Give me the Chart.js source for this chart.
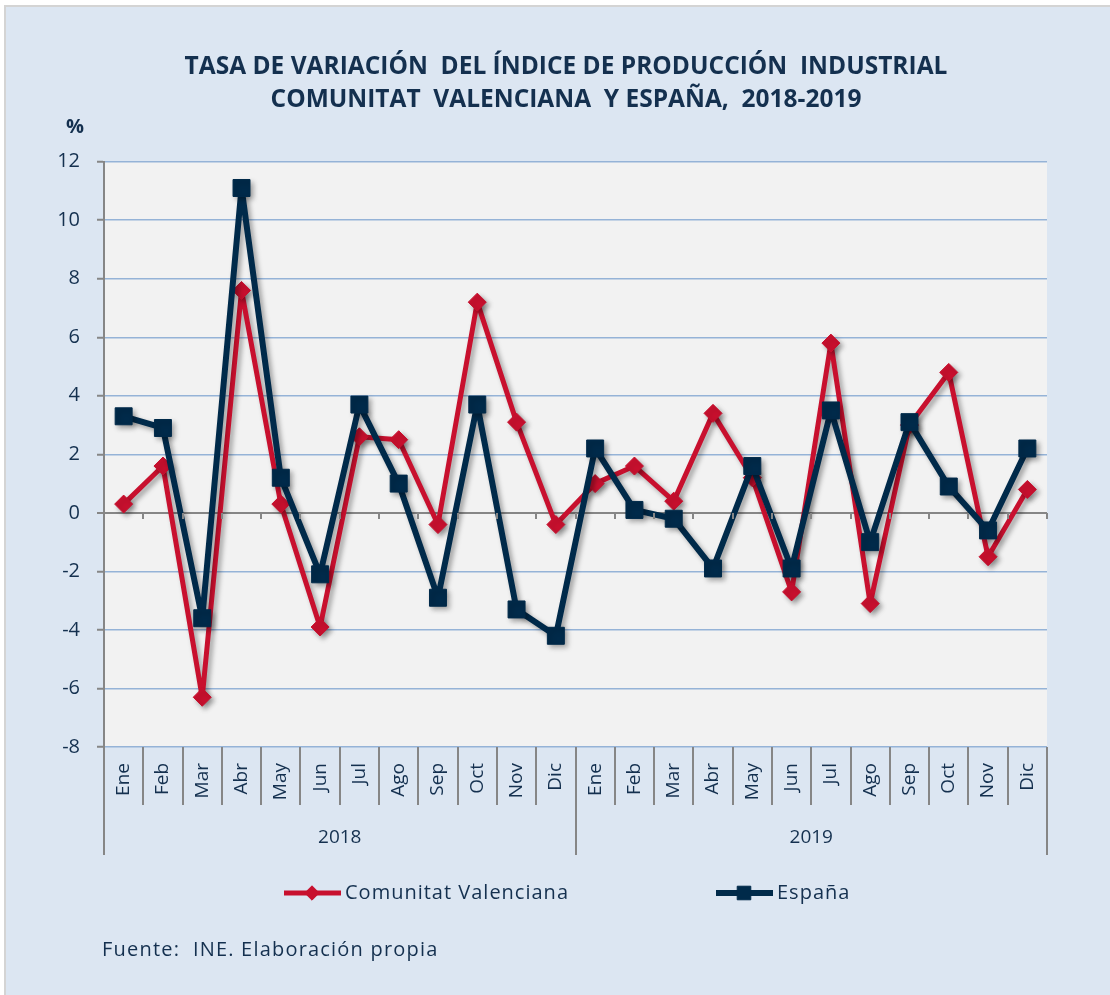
<!DOCTYPE html>
<html>
<head>
<meta charset="utf-8">
<script src="https://cdn.jsdelivr.net/npm/chart.js@4.4.1/dist/chart.umd.min.js"></script>
<style>
html,body{margin:0;padding:0;background:#fff;}
</style>
</head>
<body>
<canvas id="line-chart" width="1110" height="995"></canvas>
<script>
// datos
var meses=['Ene','Feb','Mar','Abr','May','Jun','Jul','Ago','Sep','Oct','Nov','Dic'];
var anios=['2018','2019'];
var etiquetas=meses.concat(meses);
var valenciana=[0.3,1.6,-6.3,7.6,0.3,-3.9,2.6,2.5,-0.4,7.2,3.1,-0.4,1.0,1.6,0.4,3.4,1.2,-2.7,5.8,-3.1,3.0,4.8,-1.5,0.8];
var espana=[3.3,2.9,-3.6,11.1,1.2,-2.1,3.7,1.0,-2.9,3.7,-3.3,-4.2,2.2,0.1,-0.2,-1.9,1.6,-1.9,3.5,-1.0,3.1,0.9,-0.6,2.2];
var yMin=-8, yMax=12, yPaso=2;

var colorTexto='#14304f';
var fuente='"Open Sans", "DejaVu Sans", sans-serif';

// fondo azul + area de trazado gris
var fondo={
    id:'fondo',
    beforeDraw:function(chart){
        var ctx=chart.ctx, a=chart.chartArea;
        ctx.save();
        ctx.fillStyle='#ffffff';
        ctx.fillRect(0,0,chart.width,chart.height);
        ctx.fillStyle='#dce6f2';
        ctx.fillRect(5,6,chart.width-5,chart.height-6);
        ctx.strokeStyle='#d4d4d4';
        ctx.lineWidth=2;
        ctx.strokeRect(5,6,chart.width+5,chart.height+5);
        ctx.fillStyle='#f2f2f2';
        ctx.fillRect(a.left,a.top,a.right-a.left,a.bottom-a.top);
        ctx.restore();
    }
};

// sombra de las lineas
var sombra={
    id:'sombra',
    beforeDatasetsDraw:function(chart){
        var ctx=chart.ctx;
        ctx.save();
        ctx.shadowColor='rgba(0,0,0,0.35)';
        ctx.shadowBlur=5;
        ctx.shadowOffsetX=3;
        ctx.shadowOffsetY=3;
    },
    afterDatasetsDraw:function(chart){
        chart.ctx.restore();
    }
};

// separadores del eje x, años, leyenda y fuente
var extras={
    id:'extras',
    afterDraw:function(chart){
        var ctx=chart.ctx, a=chart.chartArea, x=chart.scales.x, y=chart.scales.y;
        var paso=x.getPixelForValue(1)-x.getPixelForValue(0);
        var ini=x.getPixelForValue(0)-paso/2;
        var y0=Math.round(y.getPixelForValue(0));
        ctx.save();
        ctx.strokeStyle='#868686';
        ctx.lineWidth=2;
        ctx.beginPath();
        ctx.moveTo(a.left,a.bottom);
        ctx.lineTo(a.left,a.bottom+108);
        for(var i=0;i<=etiquetas.length;i++){
            var bx=Math.round(ini+i*paso);
            var largo=(i%12===0)?108:58;
            ctx.moveTo(bx,a.bottom);
            ctx.lineTo(bx,a.bottom+largo);
            ctx.moveTo(bx,y0);
            ctx.lineTo(bx,y0+6);
        }
        ctx.stroke();

        ctx.fillStyle=colorTexto;
        ctx.textAlign='center';
        ctx.textBaseline='middle';
        ctx.font='19px '+fuente;
        anios.forEach(function(t,k){
            ctx.fillText(t,ini+(k*12+6)*paso,a.bottom+91);
        });

        ctx.font='bold 20px '+fuente;
        ctx.fillText('%',75,127);

        // leyenda
        var posX=[284,716];
        chart.data.datasets.forEach(function(ds,k){
            var lx=posX[k], ly=893;
            ctx.strokeStyle=ds.borderColor;
            ctx.lineWidth=ds.borderWidth;
            ctx.beginPath();
            ctx.moveTo(lx,ly);
            ctx.lineTo(lx+57,ly);
            ctx.stroke();
            ctx.fillStyle=ds.pointBackgroundColor;
            ctx.strokeStyle=ds.pointBorderColor;
            ctx.lineWidth=1;
            Chart.helpers.drawPoint(ctx,{pointStyle:ds.pointStyle,radius:ds.pointRadius*0.8,rotation:0,borderWidth:1},lx+28,ly);
            ctx.fillStyle=colorTexto;
            ctx.textAlign='left';
            ctx.font='20px '+fuente;
            ctx.letterSpacing='1px';
            ctx.fillText(ds.label,lx+61,ly);
            ctx.letterSpacing='0px';
        });

        ctx.font='20px '+fuente;
        ctx.letterSpacing='1.2px';
        ctx.textAlign='left';
        ctx.fillText('Fuente:  INE. Elaboración propia',102,950);
        ctx.restore();
    }
};

let lineChartDraw=function(){
    let ctx=document.getElementById('line-chart').getContext('2d');
    window.lineChart=new Chart(ctx,{
        type:'line',
        data:{
            labels:etiquetas,
            datasets:[{
                label:'Comunitat Valenciana',
                data:valenciana,
                borderColor:'#c8102e',
                backgroundColor:'#c8102e',
                pointBackgroundColor:'#c8102e',
                pointBorderColor:'#c8102e',
                borderWidth:5,
                borderJoinStyle:'round',
                pointStyle:'rectRot',
                pointRadius:9,
                pointBorderWidth:1,
                order:1
            },{
                label:'España',
                data:espana,
                borderColor:'#002a4a',
                backgroundColor:'#002a4a',
                pointBackgroundColor:'#002a4a',
                pointBorderColor:'#002a4a',
                borderWidth:6,
                borderJoinStyle:'round',
                pointStyle:'rect',
                pointRadius:12,
                pointBorderWidth:1,
                order:0
            }]
        },
        options:{
            responsive:false,
            animation:false,
            devicePixelRatio:1,
            layout:{padding:{left:22,right:0,top:0,bottom:140}},
            plugins:{
                legend:{display:false},
                tooltip:{enabled:false},
                title:{
                    display:true,
                    text:['TASA DE VARIACIÓN  DEL ÍNDICE DE PRODUCCIÓN  INDUSTRIAL','COMUNITAT  VALENCIANA  Y ESPAÑA,  2018-2019'],
                    color:colorTexto,
                    font:{family:fuente,size:24.5,weight:'bold',lineHeight:1.34},
                    padding:{top:51,bottom:45}
                }
            },
            scales:{
                x:{
                    type:'category',
                    offset:true,
                    grid:{display:false,drawOnChartArea:false,drawTicks:false},
                    border:{display:false},
                    ticks:{
                        autoSkip:false,
                        minRotation:90,
                        maxRotation:90,
                        padding:16,
                        color:colorTexto,
                        font:{family:fuente,size:19}
                    },
                    afterFit:function(scale){scale.height=108;}
                },
                y:{
                    min:yMin,
                    max:yMax,
                    grid:{
                        color:function(c){return c.tick&&c.tick.value===0?'#868686':'#95b3d7';},
                        lineWidth:function(c){return c.tick&&c.tick.value===0?2:1.5;},
                        tickColor:'#868686',
                        tickLength:7,
                        tickWidth:2
                    },
                    border:{color:'#868686',width:2},
                    ticks:{
                        stepSize:yPaso,
                        padding:17,
                        color:colorTexto,
                        font:{family:fuente,size:20}
                    },
                    afterFit:function(scale){scale.width=82;}
                },
                // margen derecho vacio
                margen:{
                    type:'linear',
                    position:'right',
                    grid:{display:false},
                    border:{display:false},
                    ticks:{display:false},
                    afterFit:function(scale){scale.width=63;}
                }
            }
        },
        plugins:[fondo,sombra,extras]
    });
};

window.onload=function(){
    lineChartDraw();
};
</script>
</body>
</html>
